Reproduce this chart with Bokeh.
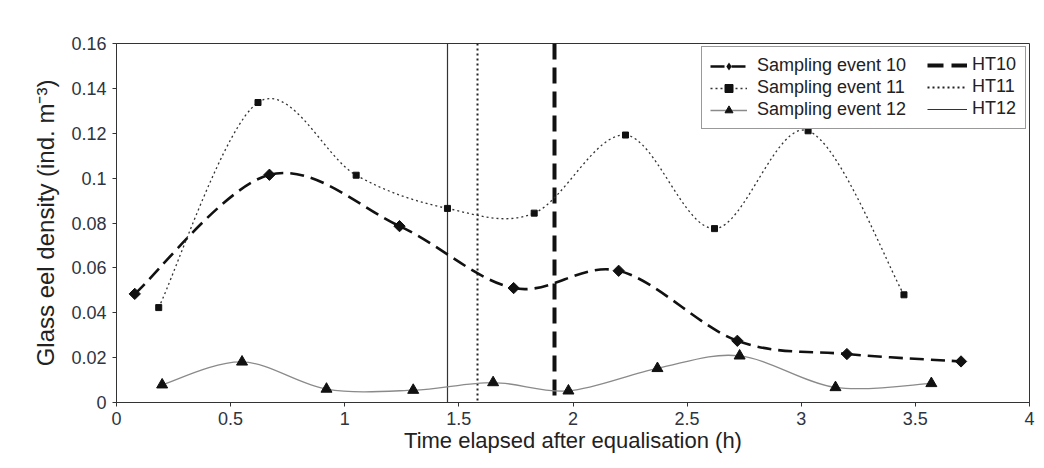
import numpy as np
from bokeh.plotting import figure
from bokeh.models import Legend, LegendItem, ColumnDataSource, FixedTicker
from bokeh.embed import file_html
from bokeh.resources import INLINE

# ---- data ----
t10 = [0.08, 0.67, 1.24, 1.74, 2.20, 2.72, 3.20, 3.70]
d10 = [0.0484, 0.1015, 0.0786, 0.0510, 0.0587, 0.0275, 0.0216, 0.0183]
t11 = [0.185, 0.62, 1.05, 1.45, 1.83, 2.23, 2.62, 3.03, 3.45]
d11 = [0.0423, 0.1337, 0.1013, 0.0865, 0.0844, 0.1192, 0.0775, 0.1211, 0.0480]
t12 = [0.20, 0.55, 0.92, 1.30, 1.65, 1.98, 2.37, 2.73, 3.15, 3.57]
d12 = [0.0079, 0.0181, 0.0060, 0.0055, 0.0089, 0.0052, 0.0152, 0.0208, 0.0067, 0.0085]
ht_labels = ["HT10", "HT11", "HT12"]
ht_times = [1.92, 1.58, 1.45]
series_labels = ["Sampling event 10", "Sampling event 11", "Sampling event 12"]
x_ticks = [0, 0.5, 1, 1.5, 2, 2.5, 3, 3.5, 4]
x_tick_labels = ["0", "0.5", "1", "1.5", "2", "2.5", "3", "3.5", "4"]
y_ticks = [0, 0.02, 0.04, 0.06, 0.08, 0.1, 0.12, 0.14, 0.16]
y_tick_labels = ["0", "0.02", "0.04", "0.06", "0.08", "0.1", "0.12", "0.14", "0.16"]


def smooth_source(xs, ys):
    """Bezier segments (Catmull-Rom style smoothing, like a spreadsheet smoothed line)."""
    x = np.asarray(xs, float)
    y = np.asarray(ys, float)
    xp = np.concatenate([[x[0]], x, [x[-1]]])
    yp = np.concatenate([[y[0]], y, [y[-1]]])
    n = len(x)
    cx0 = x[:-1] + (xp[2:n + 1] - xp[0:n - 1]) / 6.0
    cy0 = y[:-1] + (yp[2:n + 1] - yp[0:n - 1]) / 6.0
    cx1 = x[1:] - (xp[3:n + 2] - xp[1:n]) / 6.0
    cy1 = y[1:] - (yp[3:n + 2] - yp[1:n]) / 6.0
    return ColumnDataSource(dict(x0=x[:-1], y0=y[:-1], x1=x[1:], y1=y[1:],
                                 cx0=cx0, cy0=cy0, cx1=cx1, cy1=cy1))


FONT = "Liberation Sans"

p = figure(width=1036, height=460, x_range=(0, 4), y_range=(0, 0.16),
           output_backend="svg", toolbar_location=None,
           min_border_left=116, min_border_right=7, min_border_top=43, min_border_bottom=58)
p.xgrid.visible = False
p.ygrid.visible = False
p.outline_line_color = "#333333"
p.outline_line_width = 1
p.background_fill_color = "white"
p.border_fill_color = "white"

# vertical HT lines
ht_styles = [dict(line_width=4, line_dash="16 8", line_color="#111111"),
             dict(line_width=2, line_dash="2 3", line_color="#222222"),
             dict(line_width=1.2, line_color="#333333")]
ht_renderers = []
for xv, st in zip(ht_times, ht_styles):
    r = p.vspan(x=[xv], **st)
    ht_renderers.append(r)

# smoothed curves
b10 = p.bezier(x0="x0", y0="y0", x1="x1", y1="y1", cx0="cx0", cy0="cy0", cx1="cx1", cy1="cy1",
               source=smooth_source(t10, d10), line_color="#111111", line_width=2.6, line_dash="14 7")
b11 = p.bezier(x0="x0", y0="y0", x1="x1", y1="y1", cx0="cx0", cy0="cy0", cx1="cx1", cy1="cy1",
               source=smooth_source(t11, d11), line_color="#333333", line_width=1.3, line_dash="2 3")
b12 = p.bezier(x0="x0", y0="y0", x1="x1", y1="y1", cx0="cx0", cy0="cy0", cx1="cx1", cy1="cy1",
               source=smooth_source(t12, d12), line_color="#8a8a8a", line_width=1.3)

s10 = p.scatter(t10, d10, marker="square", angle=np.pi / 4, size=8, fill_color="#111111", line_color="#111111")
# diamond used only for the legend key (zero size on the plot)
k10 = p.scatter(t10, d10, marker="diamond", size=0, fill_color="#111111", line_alpha=0)
s11 = p.scatter(t11, d11, marker="square", size=6, fill_color="#111111", line_color="#111111")
s12 = p.scatter(t12, d12, marker="triangle", size=11, fill_color="#111111", line_color="#111111")

# axes
for ax, ticks, labels in ((p.xaxis[0], x_ticks, x_tick_labels), (p.yaxis[0], y_ticks, y_tick_labels)):
    ax.ticker = FixedTicker(ticks=ticks)
    ax.major_label_overrides = {t: l for t, l in zip(ticks, labels)}
    ax.minor_tick_line_color = None
    ax.major_tick_in = 0
    ax.major_tick_out = 4
    ax.axis_line_color = "#333333"
    ax.major_tick_line_color = "#333333"
    ax.major_label_text_font = FONT
    ax.major_label_text_font_size = "18px"
    ax.major_label_text_color = "#2e3440"
    ax.axis_label_text_font = FONT
    ax.axis_label_text_font_style = "normal"
    ax.axis_label_text_color = "#222222"

p.xaxis.axis_label = "Time elapsed after equalisation (h)"
p.yaxis.axis_label = "Glass eel density (ind. m\u207b\u00b3)"
p.xaxis.axis_label_text_font_size = "22px"
p.yaxis.axis_label_text_font_size = "24px"
p.xaxis.major_label_standoff = 5
p.yaxis.major_label_standoff = 6
p.xaxis.axis_label_standoff = 0
p.yaxis.axis_label_standoff = 9

# legends
legA = Legend(items=[LegendItem(label=series_labels[0], renderers=[b10, k10]),
                     LegendItem(label=series_labels[1], renderers=[b11, s11]),
                     LegendItem(label=series_labels[2], renderers=[b12, s12])],
              location="top_right", margin=3, padding=8, spacing=1,
              glyph_width=37, glyph_height=20, label_standoff=10, label_width=260, label_height=20,
              label_text_font=FONT, label_text_font_size="18px", label_text_color="#222222",
              border_line_color="#333333", border_line_width=1, background_fill_color="white",
              background_fill_alpha=1)
legB = Legend(items=[LegendItem(label=l, renderers=[r]) for l, r in zip(ht_labels, ht_renderers)],
              location="top_right", margin=3, padding=8, spacing=1,
              glyph_width=40, glyph_height=20, label_standoff=5, label_width=46, label_height=20,
              label_text_font=FONT, label_text_font_size="18px", label_text_color="#222222",
              border_line_alpha=0, background_fill_alpha=0)
p.add_layout(legA)
p.add_layout(legB)

open("out.html", "w").write(file_html(p, INLINE))
